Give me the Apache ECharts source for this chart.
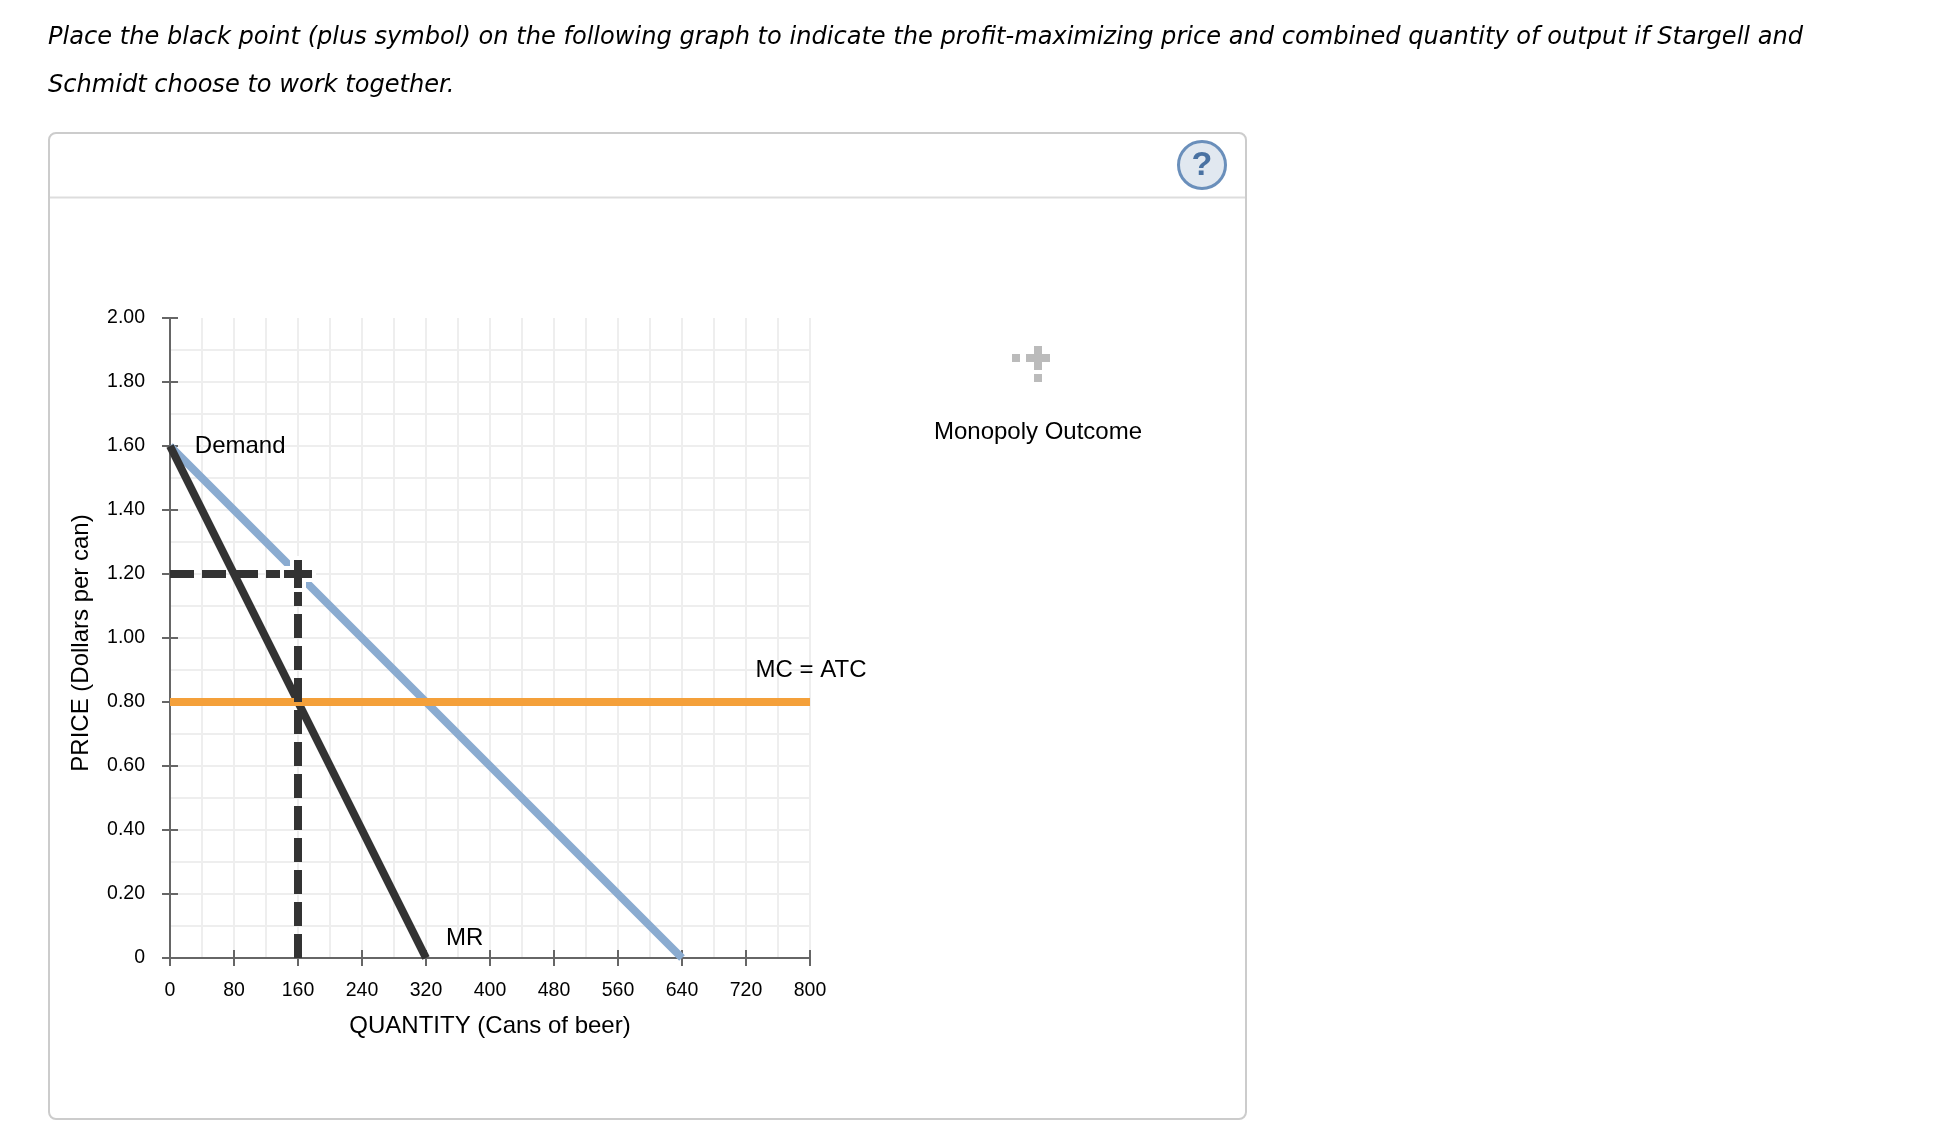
<!DOCTYPE html>
<html><head><meta charset="utf-8">
<style>html,body{margin:0;padding:0;background:#fff}#c{width:1954px;height:1132px}</style>
<script src="https://cdn.jsdelivr.net/npm/echarts@6/dist/echarts.min.js"></script>
</head><body><div id="c"></div>
<script>
const instructionLines = [
  "Place the black point (plus symbol) on the following graph to indicate the profit-maximizing price and combined quantity of output if Stargell and",
  "Schmidt choose to work together."
];
const xAxisName = "QUANTITY (Cans of beer)";
const yAxisName = "PRICE (Dollars per can)";
const legendName = "Monopoly Outcome";
const xRange = [0, 800];
const yRange = [0, 2];
const xStep = 80;
const yStep = 0.2;
const demandLine = [[0, 1.6], [640, 0]];
const mrLine = [[0, 1.6], [320, 0]];
const mcLine = [[0, 0.8], [800, 0.8]];
const outcomePoint = [160, 1.2];
const dropX = [[0, 1.2], [160, 1.2]];
const dropY = [[160, 0], [160, 1.2]];
const curveLabels = [
  {name: "Demand", at: [31, 1.6]},
  {name: "MR", at: [345, 0.06]},
  {name: "MC = ATC", at: [732, 0.9]}
];

const FONT = '"Liberation Sans", Arial, sans-serif';
const PLUS = 'path://M10,0H18V10H28V18H18V28H10V18H0V10H10Z';
const GRID = {left: 170, top: 318, width: 640, height: 640};
const AXIS = '#666666', INK = '#000000', DARK = '#333333';

const chart = echarts.init(document.getElementById('c'), null, {renderer: 'canvas'});
const tickFmtY = v => v === 0 ? '0' : v.toFixed(2);
function xA(extra){return Object.assign({type:'value',min:xRange[0],max:xRange[1],interval:xStep,position:'bottom'},extra);}
function yA(extra){return Object.assign({type:'value',min:yRange[0],max:yRange[1],interval:yStep,position:'left'},extra);}
function line(name,data,color,z,dash){
  return {name,type:'line',data,symbol:'none',animation:false,silent:true,z,
    lineStyle:{color,width:8,type:dash?[24,8]:'solid',cap:'butt'}};
}
chart.setOption({
  animation:false,
  backgroundColor:'#fff',
  grid:GRID,
  xAxis:[
    xA({name:xAxisName,nameLocation:'middle',nameGap:56,
      nameTextStyle:{fontFamily:FONT,fontSize:24,color:INK},
      axisLine:{onZero:false,lineStyle:{color:AXIS,width:2}},
      axisTick:{show:true,inside:false,length:8,lineStyle:{color:AXIS,width:2}},
      axisLabel:{fontFamily:FONT,fontSize:19.5,color:INK,margin:23,showMinLabel:true,showMaxLabel:true},
      splitLine:{show:true,lineStyle:{color:'#eeeeee',width:2}},
      minorTick:{show:false,splitNumber:2},
      minorSplitLine:{show:true,lineStyle:{color:'#eeeeee',width:2}}}),
    xA({axisLine:{show:false},axisLabel:{show:false},
      axisTick:{show:true,inside:true,length:8,lineStyle:{color:AXIS,width:2}},splitLine:{show:false}})
  ],
  yAxis:[
    yA({name:yAxisName,nameLocation:'middle',nameGap:77,nameRotate:90,
      nameTextStyle:{fontFamily:FONT,fontSize:24,color:INK,padding:[0,10,0,0]},
      axisLine:{onZero:false,lineStyle:{color:AXIS,width:2}},
      axisTick:{show:true,inside:false,length:8,lineStyle:{color:AXIS,width:2}},
      axisLabel:{fontFamily:FONT,fontSize:19.5,color:INK,margin:25,formatter:tickFmtY,showMinLabel:true,showMaxLabel:true},
      splitLine:{show:true,showMaxLine:false,lineStyle:{color:'#eeeeee',width:2}},
      minorTick:{show:false,splitNumber:2},
      minorSplitLine:{show:true,lineStyle:{color:'#eeeeee',width:2}}}),
    yA({axisLine:{show:false},axisLabel:{show:false},
      axisTick:{show:true,inside:true,length:8,lineStyle:{color:AXIS,width:2}},splitLine:{show:false}})
  ],
  series:[
    line('Demand',demandLine,'#8aabd0',3),
    line('MR',mrLine,DARK,4),
    line('MC = ATC',mcLine,'#f4a03a',5),
    line('Quantity drop',dropY,DARK,6,true),
    line('Price drop',dropX,DARK,6,true),
    {name:'Outcome halo',type:'scatter',data:[outcomePoint],symbol:PLUS,symbolSize:28,animation:false,silent:true,z:7,
      itemStyle:{color:'#fff',borderColor:'#fff',borderWidth:8,opacity:1}},
    {name:legendName,type:'scatter',data:[outcomePoint],symbol:PLUS,symbolSize:28,animation:false,silent:true,z:8,
      itemStyle:{color:DARK,opacity:1}},
    {name:'Labels',type:'scatter',symbolSize:0,animation:false,silent:true,z:9,
      itemStyle:{opacity:1},
      data:curveLabels.map(d=>({name:d.name,value:d.at})),
      label:{show:true,position:'right',distance:0,opacity:1,formatter:p=>p.name,fontFamily:FONT,fontSize:24,color:INK}}
  ],
  graphic:[
    {type:'text',silent:true,x:48,y:37.5,style:{text:instructionLines[0],fontFamily:'"DejaVu Sans"',fontStyle:'italic',fontSize:24.1,fill:INK,verticalAlign:'middle'}},
    {type:'text',silent:true,x:48,y:85.5,style:{text:instructionLines[1],fontFamily:'"DejaVu Sans"',fontStyle:'italic',fontSize:24.1,fill:INK,verticalAlign:'middle'}},
    {type:'rect',silent:true,z:-10,shape:{x:49,y:133,width:1197,height:986,r:7},style:{fill:'#fff',stroke:'#cccccc',lineWidth:2}},
    {type:'line',silent:true,z:-9,shape:{x1:50,y1:197.5,x2:1245,y2:197.5},style:{stroke:'#dddddd',lineWidth:2}},
    {type:'circle',silent:true,shape:{cx:1202,cy:165,r:23.5},style:{fill:'#e1e8f0',stroke:'#6a8fbb',lineWidth:3}},
    {type:'text',silent:true,x:1202,y:166,style:{text:'?',fontFamily:FONT,fontWeight:'bold',fontSize:34,fill:'#4a72a2',align:'center',verticalAlign:'middle'}},
    {type:'rect',silent:true,shape:{x:1026,y:354,width:24,height:8},style:{fill:'#bbbbbb'}},
    {type:'rect',silent:true,shape:{x:1034,y:346,width:8,height:24},style:{fill:'#bbbbbb'}},
    {type:'rect',silent:true,shape:{x:1012,y:354,width:8,height:8},style:{fill:'#bbbbbb'}},
    {type:'rect',silent:true,shape:{x:1034,y:374,width:8,height:8},style:{fill:'#bbbbbb'}},
    {type:'text',silent:true,x:1038,y:432,style:{text:legendName,fontFamily:FONT,fontSize:24,fill:INK,align:'center',verticalAlign:'middle'}}
  ]
});
</script></body></html>
